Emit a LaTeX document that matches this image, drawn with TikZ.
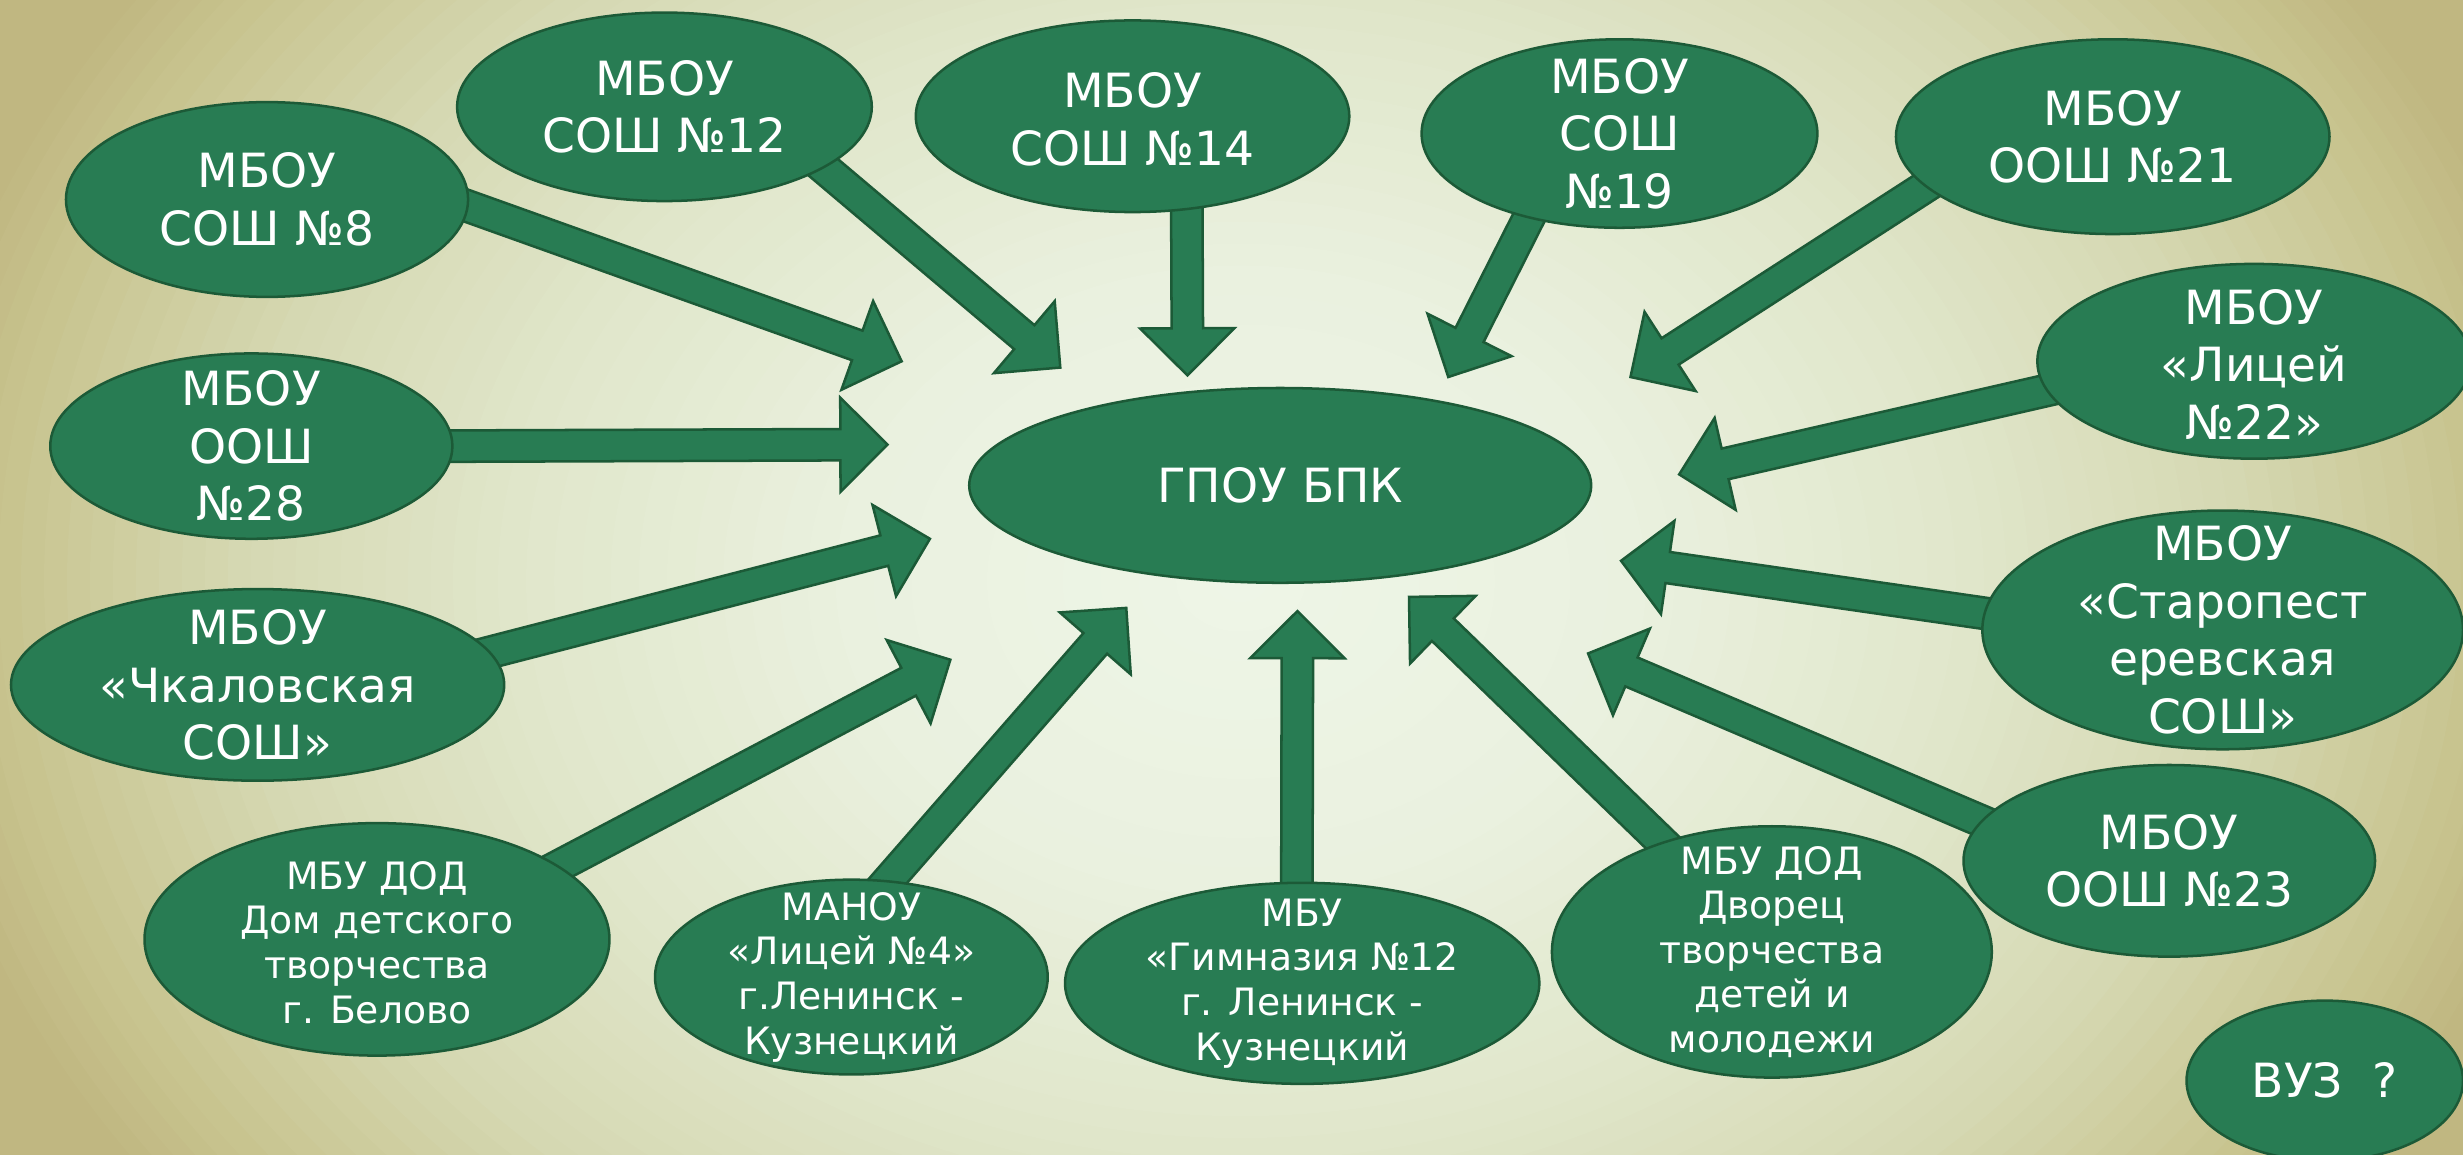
\documentclass[tikz,border=0pt]{standalone}
\usepackage{fontspec}
\setmainfont{DejaVu Sans}
\usetikzlibrary{shapes.geometric,calc}
\definecolor{ovfill}{HTML}{287C53}
\definecolor{ovline}{HTML}{1C5A37}
\definecolor{bgA}{HTML}{EEF5E7}
\definecolor{bgB}{HTML}{EAF1DF}
\definecolor{bgC}{HTML}{E0E6CA}
\definecolor{bgD}{HTML}{D5D8B2}
\definecolor{bgE}{HTML}{C8C48F}
\definecolor{bgF}{HTML}{C0B781}
\pgfdeclarelayer{bglayer}
\pgfdeclarelayer{arrlayer}
\pgfsetlayers{bglayer,arrlayer,main}
\tikzset{
  oval/.style 2 args={ellipse, fill=ovfill, draw=ovline, line width=0.8pt, minimum width=#1pt, minimum height=#2pt, inner sep=0pt},
  bigtxt/.style={text=white, align=center, font=\fontsize{15}{18.3}\selectfont, inner sep=0pt},
  smalltxt/.style={text=white, align=center, font=\fontsize{12}{14.2}\selectfont, inner sep=0pt},
  blockarr/.style={fill=ovfill, draw=ovline, line width=0.8pt, line join=miter},
}
\newcommand\blkarrow[2]{%
  \coordinate (bas) at ($(#1)!-6pt!(#2)$);
  \coordinate (bah) at ($(#2)!15pt!(bas)$);
  \draw[blockarr] ($(bas)!5pt!90:(#2)$) -- ($(bah)!5pt!90:(#2)$) -- ($(bah)!15pt!90:(#2)$) -- (#2) -- ($(bah)!15pt!-90:(#2)$) -- ($(bah)!5pt!-90:(#2)$) -- ($(bas)!5pt!-90:(#2)$) -- cycle;
}
% background rings: outer radius factor, inner radius factor, outer colour, inner colour, steps
\newcommand\bgring[5]{%
  \foreach \k in {0,...,#5}{%
    \pgfmathsetmacro\rr{#1-(#1-#2)*\k/#5}%
    \pgfmathtruncatemacro\pc{100-100*\k/#5}%
    \fill[#3!\pc!#4] (790,370) ellipse [x radius=860*\rr, y radius=670*\rr];
  }%
}
\begin{document}
\begin{tikzpicture}[x=0.5pt,y=-0.5pt]
\useasboundingbox (0,0) rectangle (1568,734.7);
\begin{pgfonlayer}{bglayer}
  \clip (-8,-8) rectangle (1576,743);
  \fill[bgF] (-8,-8) rectangle (1576,743);
  \bgring{1.0}{0.92}{bgF}{bgE}{6}
  \bgring{0.92}{0.75}{bgE}{bgD}{10}
  \bgring{0.75}{0.55}{bgD}{bgC}{12}
  \bgring{0.55}{0.30}{bgC}{bgB}{12}
  \bgring{0.30}{0.02}{bgB}{bgA}{10}
\end{pgfonlayer}

% ellipses
\node[oval={128}{62}] (n8) at (170,127) {};
\node[oval={132}{60}] (n12) at (423,68) {};
\node[oval={138}{61}] (n14) at (721,74) {};
\node[oval={126}{60}] (n19) at (1031,85) {};
\node[oval={138}{62}] (n21) at (1345,87) {};
\node[oval={138}{62}] (n22) at (1435,230) {};
\node[oval={153}{76}] (nst) at (1415,401) {};
\node[oval={131}{61}] (n23) at (1381,548) {};
\node[oval={88}{51}] (nvz) at (1480,688) {};
\node[oval={140}{80}] (ndv) at (1128,606) {};
\node[oval={151}{64}] (ngm) at (829,626) {};
\node[oval={125}{62}] (nl4) at (542,622) {};
\node[oval={148}{74}] (ndt) at (240,598) {};
\node[oval={157}{61}] (nch) at (164,436) {};
\node[oval={128}{59}] (n28) at (160,284) {};
\node[oval={198}{62}] (nc) at (815,309) {};

% texts
\node[bigtxt] (n8t) at (n8) {МБОУ\\СОШ №8};
\node[bigtxt] (n12t) at (n12) {МБОУ\\СОШ №12};
\node[bigtxt] (n14t) at ([yshift=-1pt]n14) {МБОУ\\СОШ №14};
\node[bigtxt] (n19t) at (n19) {МБОУ\\СОШ\\№19};
\node[bigtxt] (n21t) at (n21) {МБОУ\\ООШ №21};
\node[bigtxt] (n22t) at ([yshift=-1pt]n22) {МБОУ\\«Лицей\\№22»};
\node[bigtxt] (nstt) at (nst) {МБОУ\\«Старопест\\еревская\\СОШ»};
\node[bigtxt] (n23t) at (n23) {МБОУ\\ООШ №23};
\node[bigtxt] (nvzt) at (nvz) {ВУЗ \ ?};
\node[smalltxt] (ndvt) at (ndv) {МБУ ДОД\\Дворец\\творчества\\детей и\\молодежи};
\node[smalltxt] (ngmt) at (ngm) {МБУ\\«Гимназия №12\\г. Ленинск -\\Кузнецкий};
\node[smalltxt] (nl4t) at (nl4) {МАНОУ\\«Лицей №4»\\г.Ленинск -\\Кузнецкий};
\node[smalltxt] (ndtt) at ([yshift=-1pt]ndt) {МБУ ДОД\\Дом детского\\творчества\\г. Белово};
\node[bigtxt] (ncht) at (nch) {МБОУ\\«Чкаловская\\СОШ»};
\node[bigtxt] (n28t) at (n28) {МБОУ\\ООШ\\№28};
\node[bigtxt] (nct) at (nc) {ГПОУ БПК};

% arrow tips
\coordinate (t8) at (574,230);
\coordinate (t12) at (675,234);
\coordinate (t14) at (756,239);
\coordinate (t19) at (922,240);
\coordinate (t21) at (1038,240);
\coordinate (t22) at (1069,302);
\coordinate (tst) at (1032,357);
\coordinate (t23) at (1011,416);
\coordinate (tdv) at (897,380);
\coordinate (tgm) at (826,389);
\coordinate (tl4) at (717,387);
\coordinate (tdt) at (605,420);
\coordinate (tch) at (592,343);
\coordinate (t28) at (565,283);

\begin{pgfonlayer}{arrlayer}
  \blkarrow{n8.-2}{t8}
  \blkarrow{n12.-21}{t12}
  \blkarrow{n14.-60}{t14}
  \blkarrow{n19.-137}{t19}
  \blkarrow{n21.-165}{t21}
  \blkarrow{n22.-172}{t22}
  \blkarrow{nst.176}{tst}
  \blkarrow{n23.168}{t23}
  \blkarrow{ndv.135}{tdv}
  \blkarrow{ngm.93}{tgm}
  \blkarrow{nl4.69}{tl4}
  \blkarrow{ndt.22}{tdt}
  \blkarrow{nch.8}{tch}
  \blkarrow{n28.0}{t28}
\end{pgfonlayer}
\end{tikzpicture}
\end{document}
